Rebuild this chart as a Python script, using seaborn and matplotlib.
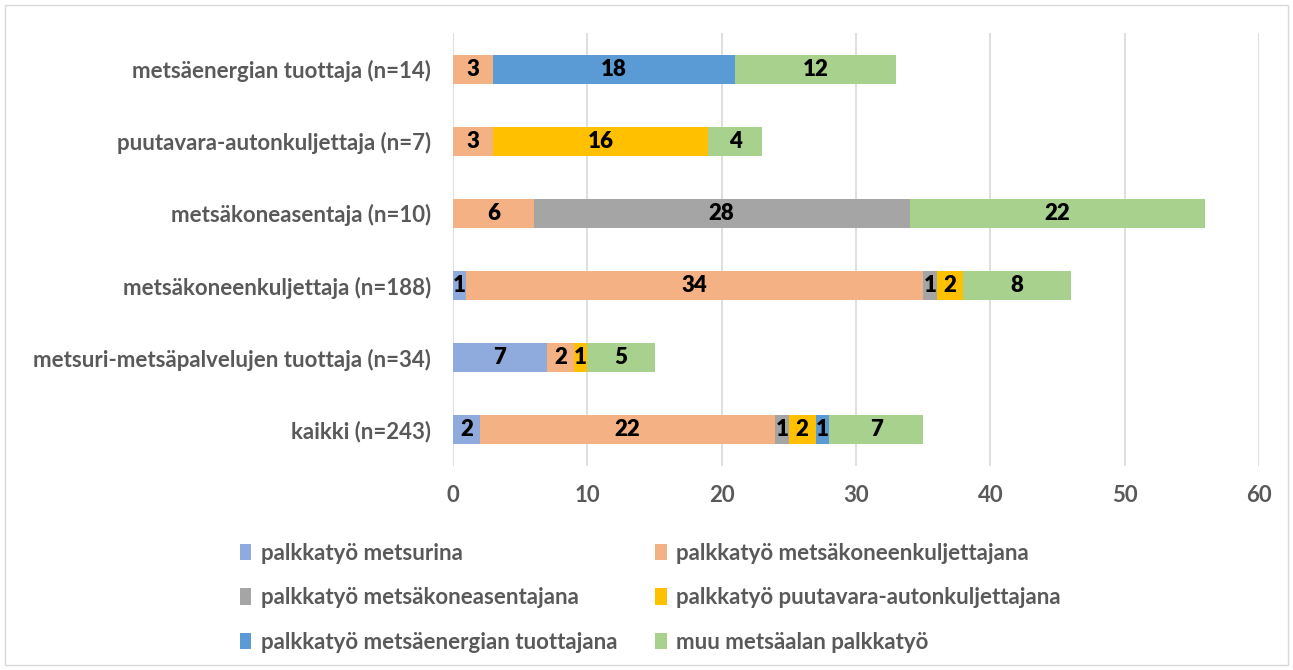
import numpy as np
import pandas as pd
import matplotlib.pyplot as plt
import seaborn as sns
from matplotlib.patches import Patch, Rectangle

# categories, top to bottom as in the chart
categories = [
    "metsäenergian tuottaja (n=14)",
    "puutavara-autonkuljettaja (n=7)",
    "metsäkoneasentaja (n=10)",
    "metsäkoneenkuljettaja (n=188)",
    "metsuri-metsäpalvelujen tuottaja (n=34)",
    "kaikki (n=243)",
]

series_names = [
    "palkkatyö metsurina",
    "palkkatyö metsäkoneenkuljettajana",
    "palkkatyö metsäkoneasentajana",
    "palkkatyö puutavara-autonkuljettajana",
    "palkkatyö metsäenergian tuottajana",
    "muu metsäalan palkkatyö",
]

metsurina = [0, 0, 0, 1, 7, 2]
koneenkuljettajana = [3, 3, 6, 34, 2, 22]
koneasentajana = [0, 0, 28, 1, 0, 1]
autonkuljettajana = [0, 16, 0, 2, 1, 2]
energian_tuottajana = [18, 0, 0, 0, 0, 1]
muu_palkkatyo = [12, 4, 22, 8, 5, 7]

colors = ["#8FAADC", "#F4B183", "#A5A5A5", "#FFC000", "#5B9BD5", "#A9D18E"]

values = np.array([metsurina, koneenkuljettajana, koneasentajana,
                   autonkuljettajana, energian_tuottajana, muu_palkkatyo])
cum = values.cumsum(axis=0)

sns.set_theme(style="white")
plt.rcParams['font.family'] = ['Lato', 'DejaVu Sans']
plt.rcParams['font.weight'] = 'bold'

FS = 16

fig = plt.figure(figsize=(12.93, 6.70), dpi=100)
ax = fig.add_axes([453 / 1293, 1 - 466 / 670, (1259 - 453) / 1293, (466 - 33) / 670])

# stacked bars: draw cumulative totals from the outermost segment inwards
for i in range(len(series_names) - 1, -1, -1):
    df = pd.DataFrame({"cat": categories, "val": cum[i]})
    sns.barplot(data=df, x="val", y="cat", color=colors[i], width=0.4,
                saturation=1, ax=ax, zorder=2, edgecolor="none")

# data labels
for i in range(len(series_names)):
    for j, cat in enumerate(categories):
        v = values[i][j]
        if v > 0:
            ax.text(cum[i][j] - v / 2, j, str(v), ha="center", va="center",
                    fontsize=FS, fontweight="heavy", color="black", zorder=3)

ax.set_xlim(0, 60)
ax.set_xticks(range(0, 61, 10))
ax.set_ylim(len(categories) - 0.5, -0.5)
ax.set_xlabel("")
ax.set_ylabel("")
ax.grid(axis="x", color="#D9D9D9", linewidth=1.2, zorder=0)
ax.grid(axis="y", visible=False)
ax.set_axisbelow(True)
for s in ax.spines.values():
    s.set_visible(False)
ax.tick_params(axis="y", length=0, pad=16, labelsize=FS, labelcolor="#595959")
ax.tick_params(axis="x", length=0, pad=14, labelsize=FS, labelcolor="#595959")
for lab in ax.get_xticklabels() + ax.get_yticklabels():
    lab.set_fontweight("bold")

# legend: two columns, rows read left to right
handles = [Patch(facecolor=c, edgecolor="none") for c in colors]
order = [0, 2, 4, 1, 3, 5]
fig.legend([handles[k] for k in order], [series_names[k] for k in order],
           ncol=2, loc="upper left", bbox_to_anchor=(220 / 1293, 1 - 523 / 670),
           frameon=False, labelcolor="#595959",
           handlelength=0.5, handleheight=0.75, handletextpad=0.45,
           labelspacing=1.05, columnspacing=1.7,
           prop={"weight": "bold", "size": FS})

# chart area border
fig.patches.append(Rectangle((5 / 1293, 5 / 670), 1283 / 1293, 660 / 670,
                             transform=fig.transFigure, fill=False,
                             edgecolor="#D9D9D9", linewidth=1))

fig.savefig("out.png", dpi=100)
